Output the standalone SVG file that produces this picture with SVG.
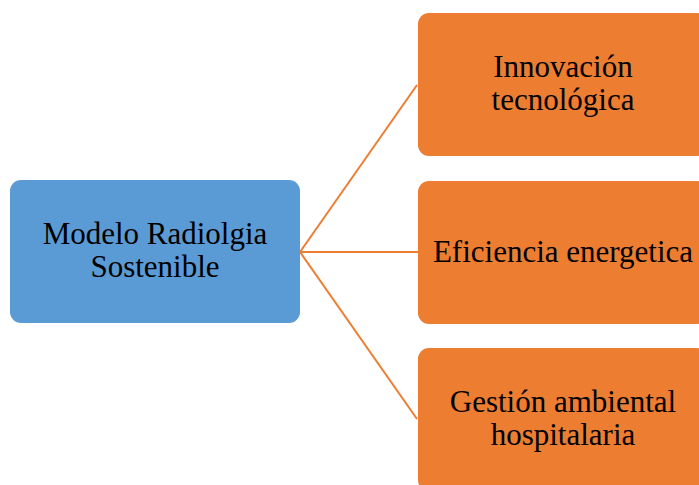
<svg xmlns="http://www.w3.org/2000/svg" width="699" height="485" viewBox="0 0 699 485">
<style>
.blue{fill:#5B9BD5;}
.orange{fill:#ED7D31;}
.t{font-family:"Liberation Serif","Times New Roman",serif;font-size:31px;fill:#000;text-anchor:middle;}
.c{stroke:#ED7D31;stroke-width:2;fill:none;}
</style>
<rect width="699" height="485" fill="#fff"/>
<g id="connectors">
<line class="c" x1="300" y1="252" x2="417" y2="85"/>
<line class="c" x1="300" y1="252" x2="418" y2="252"/>
<line class="c" x1="300" y1="252" x2="417" y2="419"/>
</g>
<g id="n-modelo">
<rect class="blue" x="10" y="180" width="290" height="143" rx="11"/>
<text class="t" x="155" y="244">Modelo Radiolgia</text>
<text class="t" x="155" y="277">Sostenible</text>
</g>
<g id="n-innovacion">
<rect class="orange" x="418" y="13" width="290" height="143" rx="11"/>
<text class="t" x="563" y="77">Innovación</text>
<text class="t" x="563" y="110">tecnológica</text>
</g>
<g id="n-eficiencia">
<rect class="orange" x="418" y="181" width="290" height="143" rx="11"/>
<text class="t" x="563" y="262">Eficiencia energetica</text>
</g>
<g id="n-gestion">
<rect class="orange" x="418" y="348" width="290" height="143" rx="11"/>
<text class="t" x="563" y="412">Gestión ambiental</text>
<text class="t" x="563" y="445">hospitalaria</text>
</g>
</svg>
